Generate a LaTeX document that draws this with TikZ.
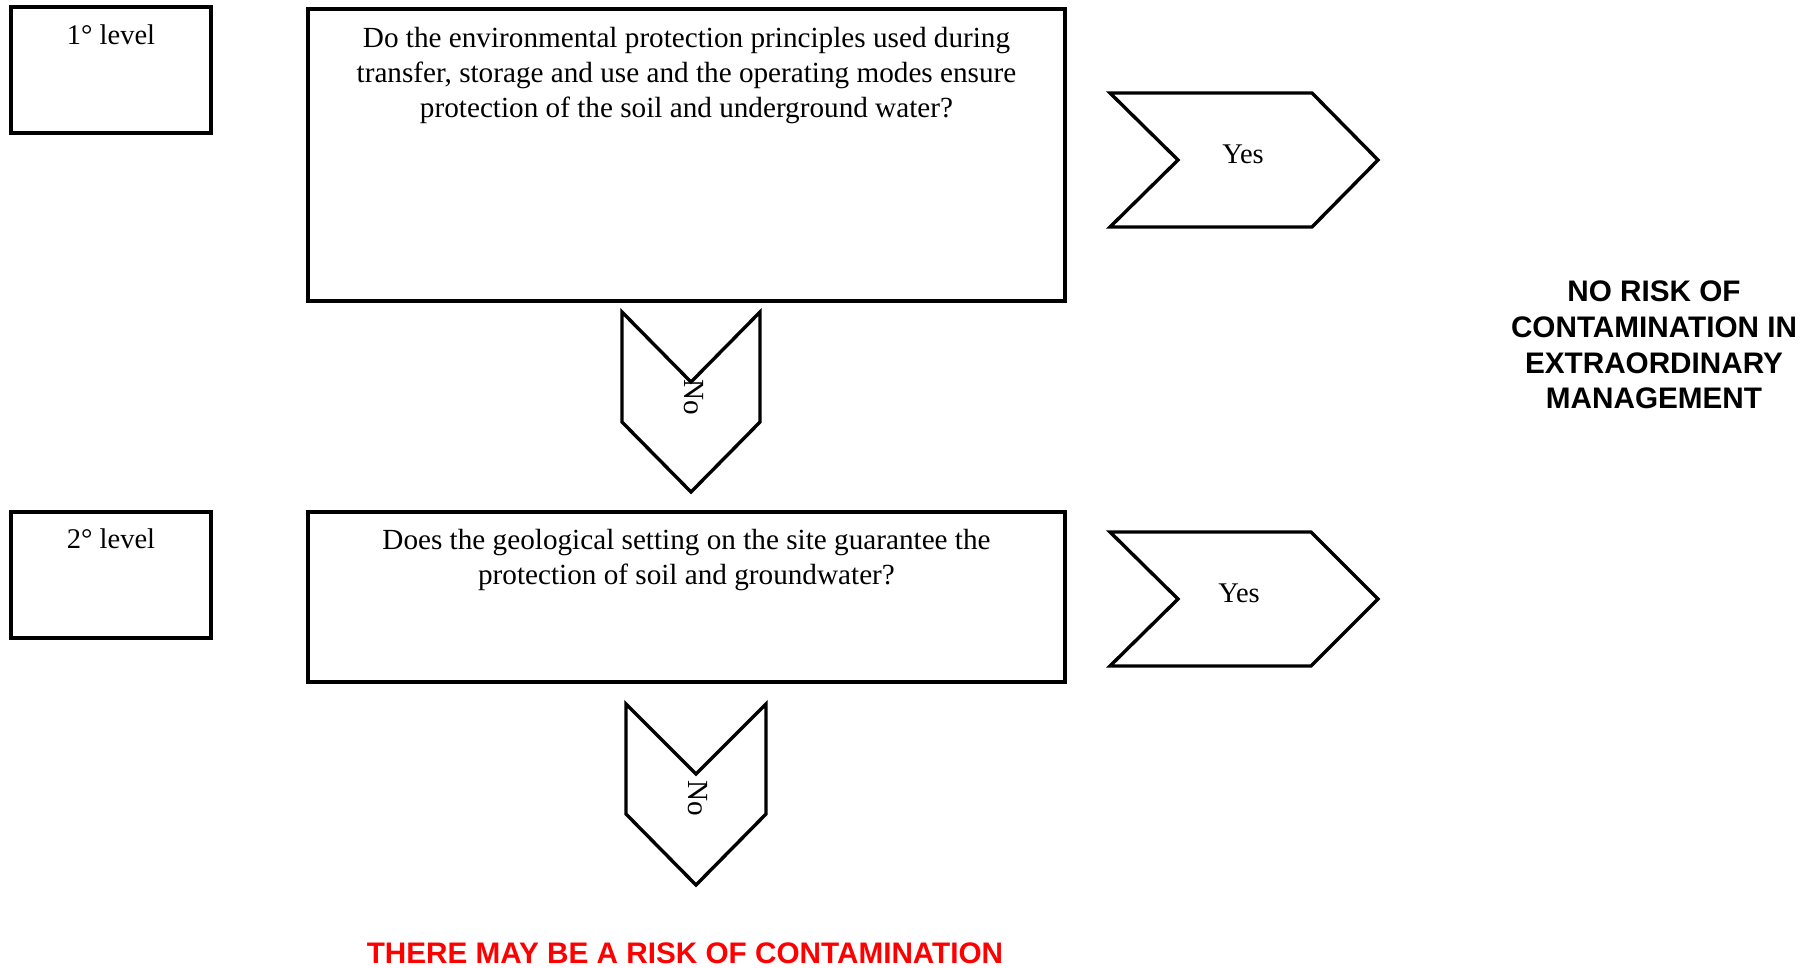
\documentclass[tikz,border=0pt]{standalone}
\usepackage{fontspec}
\setmainfont{Liberation Serif}
\newfontfamily\arialf{Liberation Sans}
\begin{document}
\begin{tikzpicture}[x=1pt,y=-1pt,
  chev/.style={draw=black,line width=3.4pt,line join=miter},
  qtext/.style={inner sep=0pt,align=center,font=\fontsize{29.2}{35}\selectfont},
  lvltext/.style={inner sep=0pt,font=\fontsize{28.5}{35}\selectfont},
  bigtext/.style={inner sep=0pt,align=center,font=\arialf\bfseries\fontsize{29.7}{35.6}\selectfont},
]
\useasboundingbox (0,0) rectangle (1811,968);
% level boxes
\draw[chev] (11,7) rectangle (211,133);
\node[lvltext,anchor=base] (l1) at (111,45) {1° level};
\draw[chev] (11,512) rectangle (211,638);
\node[lvltext,anchor=base] (l2) at (111,548) {2° level};
% question boxes
\draw[chev] (308,9) rectangle (1065,301);
\node[qtext,anchor=north] (q1) at (686.5,27) {Do the environmental protection principles used during\\transfer, storage and use and the operating modes ensure\\protection of the soil and underground water?};
\draw[chev] (308,512) rectangle (1065,682);
\node[qtext,anchor=north] (q2) at (686.5,529) {Does the geological setting on the site guarantee the\\protection of soil and groundwater?};
% No chevrons
\draw[chev] (622,312) -- (691,382) -- (760,312) -- (760,422) -- (691,492) -- (622,422) -- cycle;
\node[qtext,rotate=-90] (no1) at (694,397) {No};
\draw[chev] (626,704) -- (696,774) -- (766,704) -- (766,814) -- (696,885) -- (626,814) -- cycle;
\node[qtext,rotate=-90] (no2) at (698,798) {No};
% Yes chevrons
\draw[chev] (1110,93) -- (1312,93) -- (1378,160) -- (1312,227) -- (1110,227) -- (1178,160) -- cycle;
\node[lvltext,anchor=base] (y1) at (1243,164) {Yes};
\draw[chev] (1110,532) -- (1311,532) -- (1378,599) -- (1311,666) -- (1110,666) -- (1178,599) -- cycle;
\node[lvltext,anchor=base] (y2) at (1239,602) {Yes};
% outcomes
\node[bigtext,anchor=north] (norisk) at (1654,281) {NO RISK OF\\CONTAMINATION IN\\EXTRAORDINARY\\MANAGEMENT};
\node[bigtext,anchor=base,text=red] (risk) at (685,963) {THERE MAY BE A RISK OF CONTAMINATION};
\end{tikzpicture}
\end{document}
